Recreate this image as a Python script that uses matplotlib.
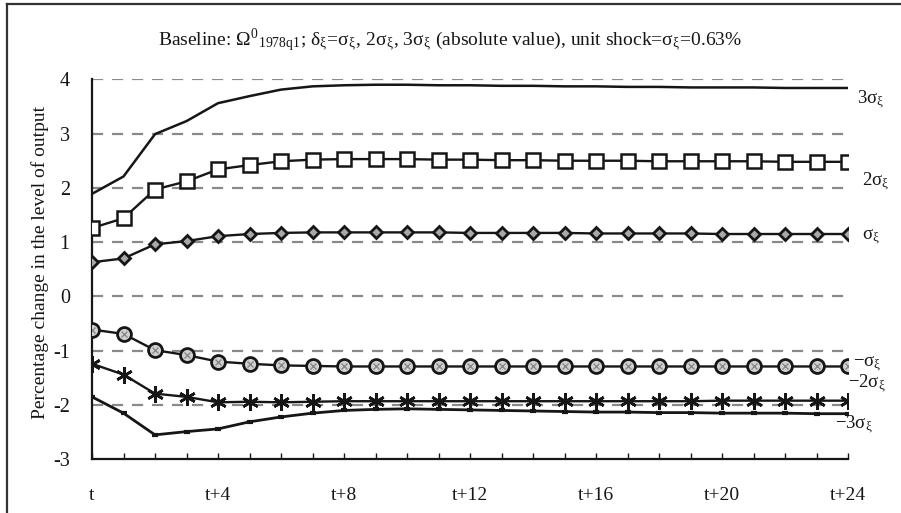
import matplotlib
matplotlib.use("Agg")
import matplotlib.pyplot as plt
from matplotlib.lines import Line2D

plt.rcParams["font.family"] = ["Liberation Serif", "DejaVu Serif"]
plt.rcParams["mathtext.fontset"] = "stix"

# horizon in quarters after the shock
periods = list(range(25))
tick_pos = [0, 4, 8, 12, 16, 20, 24]
tick_labels = ["t", "t+4", "t+8", "t+12", "t+16", "t+20", "t+24"]

pos3 = [1.89, 2.21, 2.99, 3.23, 3.56, 3.69, 3.81, 3.87, 3.89, 3.90, 3.90, 3.89, 3.89,
        3.88, 3.88, 3.87, 3.87, 3.86, 3.86, 3.85, 3.85, 3.85, 3.84, 3.84, 3.84]
pos2 = [1.26, 1.44, 1.97, 2.12, 2.34, 2.42, 2.49, 2.52, 2.53, 2.53, 2.53, 2.52, 2.52,
        2.51, 2.51, 2.50, 2.50, 2.50, 2.49, 2.49, 2.49, 2.49, 2.48, 2.48, 2.48]
pos1 = [0.63, 0.70, 0.96, 1.02, 1.11, 1.15, 1.17, 1.18, 1.18, 1.18, 1.18, 1.18, 1.17,
        1.17, 1.17, 1.17, 1.16, 1.16, 1.16, 1.16, 1.15, 1.15, 1.15, 1.15, 1.15]
neg1 = [-0.61, -0.69, -0.99, -1.08, -1.20, -1.24, -1.27, -1.28, -1.29, -1.29, -1.29,
        -1.29, -1.29, -1.29, -1.29, -1.29, -1.29, -1.29, -1.29, -1.29, -1.29, -1.29,
        -1.29, -1.29, -1.29]
neg2 = [-1.24, -1.44, -1.79, -1.85, -1.95, -1.94, -1.95, -1.94, -1.93, -1.93, -1.93,
        -1.93, -1.93, -1.93, -1.93, -1.93, -1.93, -1.93, -1.93, -1.93, -1.92, -1.92,
        -1.92, -1.92, -1.92]
neg3 = [-1.85, -2.15, -2.55, -2.49, -2.44, -2.31, -2.22, -2.15, -2.10, -2.08, -2.07,
        -2.08, -2.09, -2.10, -2.11, -2.12, -2.13, -2.13, -2.14, -2.14, -2.15, -2.15,
        -2.15, -2.16, -2.16]

INK = "#161616"
SIG = "σ$_{\\mathregular{ξ}}$"

W, H = 901, 513
fig = plt.figure(figsize=(W / 100, H / 100), dpi=100)
ax = fig.add_axes([92 / W, (H - 459.3) / H, (848 - 92) / W, (459.3 - 79.3) / H])

for v in [4, 3, 2, 1, 0, -1, -2]:
    ax.plot([0, 24], [v, v], color="#8a8a8a", lw=1.6, ls=(0, (5, 4)), zorder=1)

ax.plot(periods, pos3, color=INK, lw=1.8, zorder=3)
ax.plot(periods, pos2, color=INK, lw=1.7, marker="s", ms=10.5,
        mfc="white", mec=INK, mew=1.8, zorder=3)
ax.plot(periods, pos1, color=INK, lw=1.7, marker="D", ms=6.5,
        mfc="#a8a8a8", mec=INK, mew=2.0, zorder=3)
ax.plot(periods, neg1, color=INK, lw=1.7, marker="o", ms=10,
        mfc="#d0d0d0", mec=INK, mew=2.0, zorder=3)
ax.plot(periods, neg1, ls="none", marker="x", ms=4, mec="#8a8a8a", mew=1.0, zorder=4)
ax.plot(periods, neg2, color=INK, lw=1.7, marker=(6, 2, 0), ms=12,
        mec=INK, mew=1.9, zorder=3)
ax.plot(periods, neg3, color=INK, lw=2.0, marker="_", ms=5,
        mec=INK, mew=3, zorder=3)

ax.set_xlim(0, 24)
ax.set_ylim(-3, 4)
for side in ["top", "right"]:
    ax.spines[side].set_visible(False)
for side in ["left", "bottom"]:
    ax.spines[side].set_linewidth(1.6)
    ax.spines[side].set_color(INK)

ax.set_xticks(periods, minor=True)
ax.set_xticks(tick_pos)
ax.set_xticklabels(tick_labels)
ax.tick_params(axis="x", which="both", direction="in", length=4, width=1,
               pad=20, labelsize=14, colors=INK)
ax.set_yticks(range(-3, 5))
ax.set_yticklabels([str(v) for v in range(-3, 5)])
ax.tick_params(axis="y", length=0, pad=16, labelsize=14.5, colors=INK)

fig.text(40 / W, 1 - 262 / H, "Percentage change in the level of output",
         rotation=90, ha="center", va="center", fontsize=14, color=INK)

title = ("Baseline: Ω$^{\\mathregular{0}}{}_{\\mathregular{1978q1}}$; δ$_{\\mathregular{ξ}}$="
         + SIG + ", 2" + SIG + ", 3" + SIG
         + " (absolute value), unit shock=" + SIG + "=0.63%")
fig.text(450 / W, 1 - 40 / H, title, ha="center", va="center",
         fontsize=14, color=INK)

# series labels at the right end of each line
labels = [
    (24.3, 3.63, "3" + SIG),
    (24.45, 2.12, "2" + SIG),
    (24.45, 1.12, SIG),
    (24.15, -1.23, "\u2212" + SIG),
    (24.0, -1.59, "\u22122" + SIG),
    (23.6, -2.36, "\u22123" + SIG),
]
for x, y, s in labels:
    ax.text(x, y, s, ha="left", va="center", fontsize=13.5, color=INK,
            clip_on=False)

# surrounding frame
fig.add_artist(Line2D([7 / W, 7 / W], [0, 1 - 4 / H], color="#333333", lw=1.6))
fig.add_artist(Line2D([7 / W, 1], [1 - 4 / H, 1 - 4 / H], color="#333333", lw=1.6))

fig.savefig("out.png", dpi=100)
